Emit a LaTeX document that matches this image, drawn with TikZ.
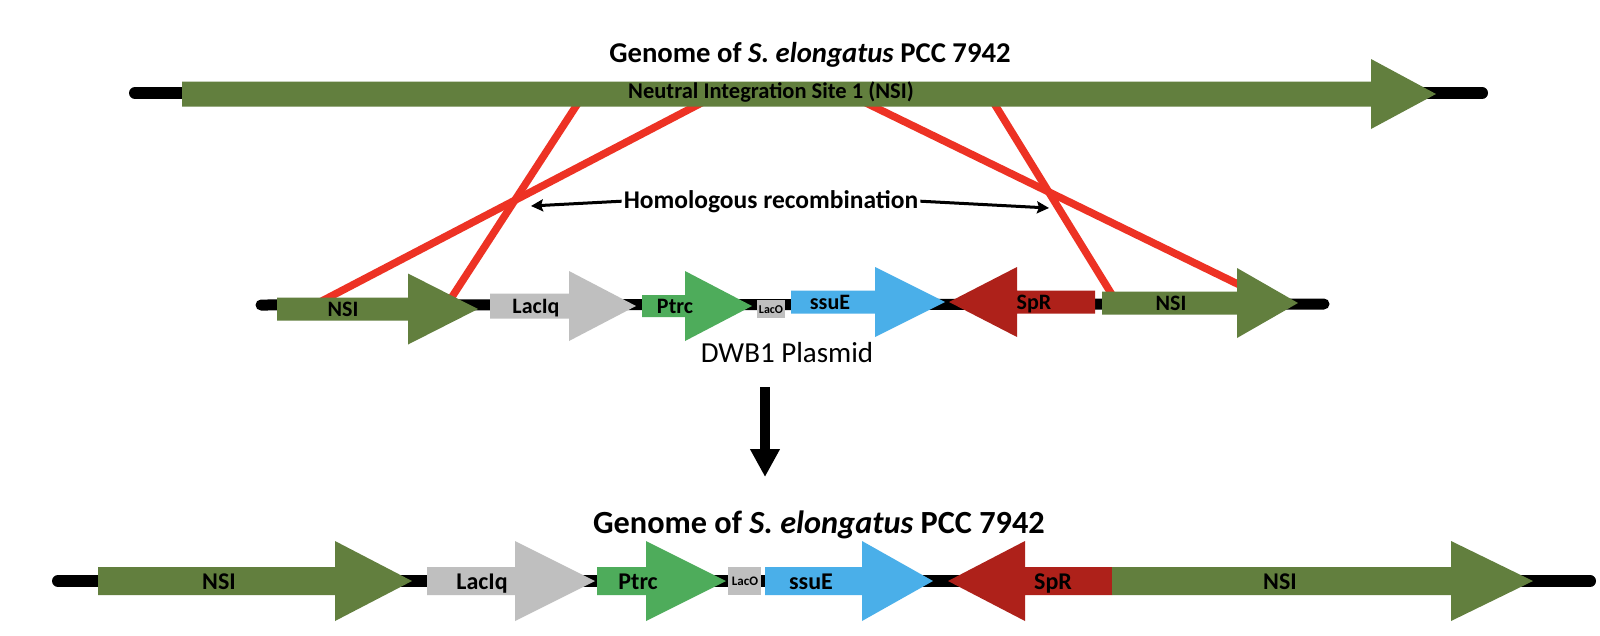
\documentclass[tikz,border=0pt]{standalone}
\usepackage{fontspec}
\setmainfont{Carlito}
\usetikzlibrary{arrows.meta}
\definecolor{nsigreen}{RGB}{98,127,62}
\definecolor{lacgrey}{RGB}{191,191,191}
\definecolor{ptrcgreen}{RGB}{78,172,91}
\definecolor{ssueblue}{RGB}{74,175,233}
\definecolor{sprred}{RGB}{174,33,26}
\definecolor{recred}{RGB}{237,50,36}
\newcommand\fsz[1]{\fontsize{#1}{#1}\selectfont}
% right-pointing gene: x0, xbase, xtip, ycenter, half bar, half head, colour
\newcommand\geneR[7]{\fill[#7] (#1,#4-#5) -- (#2,#4-#5) -- (#2,#4-#6) -- (#3,#4) -- (#2,#4+#6) -- (#2,#4+#5) -- (#1,#4+#5) -- cycle;}
% left-pointing gene: xtip, xbase, x1, ycenter, half bar, half head, colour
\newcommand\geneL[7]{\fill[#7] (#3,#4-#5) -- (#2,#4-#5) -- (#2,#4-#6) -- (#1,#4) -- (#2,#4+#6) -- (#2,#4+#5) -- (#3,#4+#5) -- cycle;}
\begin{document}
\begin{tikzpicture}[x=1pt,y=-1pt,
  dna/.style={line width=12pt,line cap=round,black},
  recline/.style={recred,line width=7.5pt},
  glabel/.style={font=\bfseries\fsz{22},inner sep=0pt,anchor=base},
  blabel/.style={font=\bfseries\fsz{24},inner sep=0pt,anchor=base},
  title/.style={inner sep=0pt,anchor=base},
  harrow/.style={line width=3pt,-{Stealth[length=12pt,width=12pt,inset=2pt]}},
  bigarrow/.style={line width=9.5pt,-{Triangle[length=28pt,width=28pt]}}]
\fill[white] (0,0) rectangle (1600,635);
\useasboundingbox (0,0) rectangle (1600,635);

% ---------- top genome ----------
\node[title,font=\bfseries\fsz{28.7}] (toptitle) at (810,62) {Genome of \textit{S. elongatus} PCC 7942};
\coordinate (tl1) at (135,93);
\coordinate (tl2) at (1482,93);
\draw[dna] (tl1) -- (tl2);

% ---------- plasmid line ----------
\coordinate (pl1) at (261,305);
\coordinate (pl2) at (1324,304);
\draw[dna,line width=11pt] (pl1) -- (pl2);

% ---------- bottom line ----------
\coordinate (bl1) at (58,581);
\coordinate (bl2) at (1590,581);
\draw[dna] (bl1) -- (bl2);

% ---------- recombination lines ----------
\coordinate (r1a) at (580,100);  \coordinate (r1b) at (450,300);
\coordinate (r2a) at (707,100);  \coordinate (r2b) at (320,302);
\coordinate (r3a) at (860,100);  \coordinate (r3b) at (1250,290);
\coordinate (r4a) at (992,100);  \coordinate (r4b) at (1114,298);
\draw[recline] (r1a) -- (r1b);
\draw[recline] (r2a) -- (r2b);
\draw[recline] (r3a) -- (r3b);
\draw[recline] (r4a) -- (r4b);

% top NSI bar
\geneR{182}{1371}{1436}{94}{12.5}{35}{nsigreen}
\node[glabel,font=\bfseries\fsz{22.5}] (nsitop) at (771,98.5) {Neutral Integration Site 1 (NSI)};

% homologous recombination
\node[title,font=\bfseries\fsz{25.5},inner sep=2pt] (hr) at (771,208) {Homologous recombination};
\coordinate (hrl) at (531,206);
\coordinate (hrr) at (1049,208);
\draw[harrow] (hr.west) -- (hrl);
\draw[harrow] (hr.east) -- (hrr);

% ---------- plasmid genes ----------
\geneR{277}{408}{478}{309}{11.5}{35.5}{nsigreen}
\geneR{490}{569}{636}{306}{12.5}{35}{lacgrey}
\geneR{642}{685}{752}{306}{11}{35}{ptrcgreen}
\fill[lacgrey] (757,300) rectangle (785,318);
\geneR{791}{875}{945}{302}{11.5}{35}{ssueblue}
\geneL{949}{1017}{1095}{302}{11.5}{35}{sprred}
\geneR{1102}{1237}{1298}{303}{11.5}{35}{nsigreen}

\node[glabel] (pnsi1) at (343,316) {NSI};
\node[glabel] (placi) at (536,313) {LacIq};
\node[glabel] (pptrc) at (675,313) {Ptrc};
\node[glabel,font=\bfseries\fsz{12}] (placo) at (771,313) {LacO};
\node[glabel] (pssue) at (830,309) {ssuE};
\node[glabel] (pspr) at (1034,309) {SpR};
\node[glabel] (pnsi2) at (1171,310) {NSI};

\node[title,font=\fsz{29}] (plasmid) at (787,362) {DWB1 Plasmid};

% big arrow
\coordinate (da1) at (765,387);
\coordinate (da2) at (765,477);
\draw[bigarrow] (da1) -- (da2);

% ---------- bottom genome ----------
\node[title,font=\bfseries\fsz{32.3}] (bottitle) at (819,533) {Genome of \textit{S. elongatus} PCC 7942};
\geneR{98}{335}{412}{581}{14}{40}{nsigreen}
\geneR{427}{515}{595}{581}{14}{40}{lacgrey}
\geneR{597}{646}{726}{581}{14}{40}{ptrcgreen}
\fill[lacgrey] (728,567) rectangle (761,595);
\geneR{765}{862}{933}{581}{14}{40}{ssueblue}
\geneL{948}{1025}{1112}{581}{14}{40}{sprred}
\geneR{1112}{1451}{1533}{581}{14}{40}{nsigreen}

\node[blabel] (bnsi1) at (219,589) {NSI};
\node[blabel] (blaci) at (482,589) {LacIq};
\node[blabel] (bptrc) at (638,589) {Ptrc};
\node[blabel,font=\bfseries\fsz{13}] (blaco) at (745,585) {LacO};
\node[blabel] (bssue) at (811,589) {ssuE};
\node[blabel] (bspr) at (1053,589) {SpR};
\node[blabel] (bnsi2) at (1280,589) {NSI};
\end{tikzpicture}
\end{document}
